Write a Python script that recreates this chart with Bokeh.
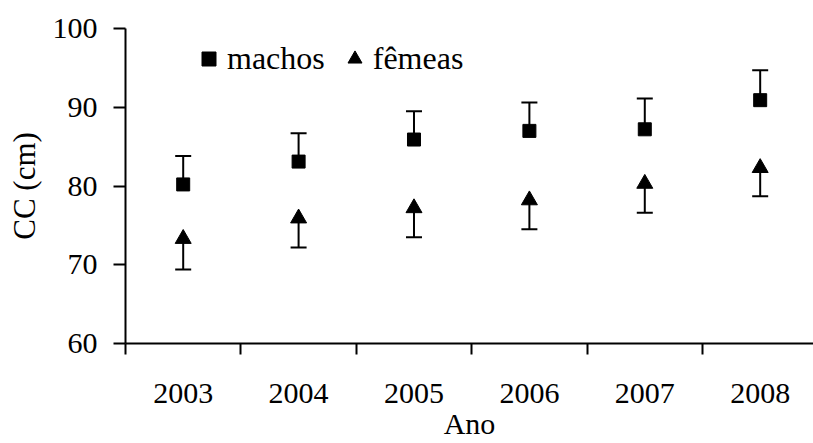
from bokeh.plotting import figure
from bokeh.models import (ColumnDataSource, Whisker, FixedTicker, Legend, LegendItem,
                          Range1d, TeeHead)
from bokeh.embed import file_html
from bokeh.resources import INLINE

# ---- data ----
anos = ["2003", "2004", "2005", "2006", "2007", "2008"]
machos = [80.2, 83.1, 85.9, 87.0, 87.2, 90.9]
machos_dp = [3.6, 3.6, 3.6, 3.6, 3.9, 3.8]
femeas = [73.3, 75.9, 77.2, 78.2, 80.3, 82.3]
femeas_dp = [3.9, 3.7, 3.7, 3.7, 3.7, 3.6]
y_ticks = [60, 70, 80, 90, 100]

FONT = "Liberation Serif"
X_END = 5.962

xc = [i + 0.5 for i in range(len(anos))]
src_m = ColumnDataSource(dict(x=xc, y=machos,
                              up=[v + d for v, d in zip(machos, machos_dp)]))
src_f = ColumnDataSource(dict(x=xc, y=femeas,
                              lo=[v - d for v, d in zip(femeas, femeas_dp)]))

p = figure(width=813, height=443, output_backend="svg", toolbar_location=None,
           x_range=Range1d(0, X_END), y_range=Range1d(60, 100),
           min_border_left=125, min_border_right=0, min_border_top=28,
           min_border_bottom=100)
p.outline_line_color = None
p.xgrid.visible = False
p.ygrid.visible = False
p.background_fill_color = "white"
p.border_fill_color = "white"

# error bars
wm = Whisker(source=src_m, base="x", lower="y", upper="up", dimension="height",
             line_color="black", line_width=2, lower_head=None,
             upper_head=TeeHead(size=16, line_color="black", line_width=2))
wf = Whisker(source=src_f, base="x", lower="lo", upper="y", dimension="height",
             line_color="black", line_width=2, upper_head=None,
             lower_head=TeeHead(size=16, line_color="black", line_width=2))
p.add_layout(wm)
p.add_layout(wf)

rm = p.scatter("x", "y", source=src_m, marker="square", size=13,
               fill_color="black", line_color="black")
rf = p.scatter("x", "y", source=src_f, marker="triangle", size=16,
               fill_color="black", line_color="black")

# axes
xa = p.xaxis[0]
xa.ticker = FixedTicker(ticks=xc, minor_ticks=list(range(len(anos) + 1)))
xa.major_label_overrides = {x: a for x, a in zip(xc, anos)}
xa.major_tick_line_color = None
xa.major_tick_out = 0
xa.major_tick_in = 0
xa.minor_tick_out = 11
xa.minor_tick_in = 0
xa.minor_tick_line_color = "black"
xa.minor_tick_line_width = 2
xa.axis_line_width = 2
xa.axis_line_color = "black"
xa.major_label_standoff = 29
xa.major_label_text_font = FONT
xa.major_label_text_font_size = "30px"
xa.major_label_text_color = "black"
xa.axis_label = "Ano"
xa.axis_label_text_font = FONT
xa.axis_label_text_font_size = "30px"
xa.axis_label_text_font_style = "normal"
xa.axis_label_text_color = "black"
xa.axis_label_standoff = 1

ya = p.yaxis[0]
ya.ticker = FixedTicker(ticks=y_ticks, minor_ticks=[])
ya.major_tick_out = 12
ya.major_tick_in = 0
ya.major_tick_line_width = 2
ya.major_tick_line_color = "black"
ya.axis_line_width = 2
ya.axis_line_color = "black"
ya.major_label_standoff = 16
ya.major_label_text_font = FONT
ya.major_label_text_font_size = "30px"
ya.major_label_text_color = "black"
ya.axis_label = "CC (cm)"
ya.axis_label_text_font = FONT
ya.axis_label_text_font_size = "31px"
ya.axis_label_text_font_style = "normal"
ya.axis_label_text_color = "black"
ya.axis_label_standoff = 8

legend = Legend(items=[LegendItem(label="machos", renderers=[rm]),
                       LegendItem(label="fêmeas", renderers=[rf])],
                orientation="horizontal", location=(66, 266),
                border_line_color=None, background_fill_alpha=0,
                padding=0, margin=0, spacing=12, label_standoff=1,
                glyph_width=35, glyph_height=35,
                label_text_font=FONT, label_text_font_size="32px",
                label_text_color="black")
p.add_layout(legend, "center")

open("out.html", "w").write(file_html(p, INLINE))
